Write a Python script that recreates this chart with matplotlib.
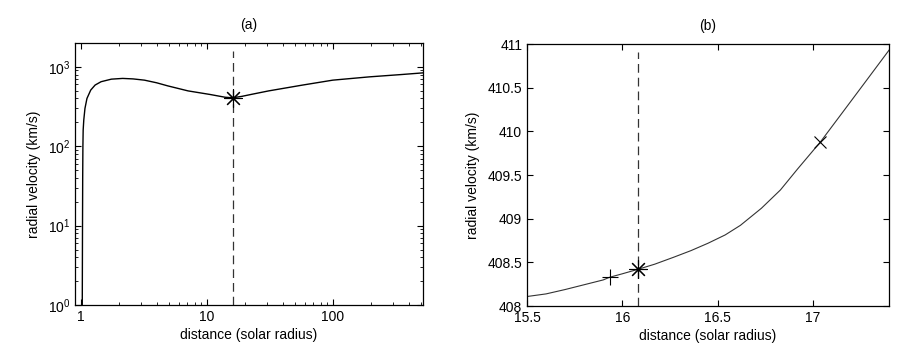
import numpy as np
import matplotlib
matplotlib.use("Agg")
import matplotlib.pyplot as plt
from matplotlib.ticker import LogLocator, NullFormatter

plt.rcParams['font.family'] = ['Liberation Sans', 'DejaVu Sans']
plt.rcParams['font.size'] = 10

# panel (a): full velocity profile
r_a = [1.028, 1.032, 1.036, 1.04, 1.045, 1.057, 1.08, 1.12, 1.2, 1.3, 1.45,
       1.75, 2.15, 2.6, 3.2, 4.0, 4.9, 7.1, 10.6, 14.0, 16.08, 19.0, 22.9,
       31, 57, 100, 195, 350, 520]
v_a = [1, 8, 40, 100, 160, 215, 300, 400, 510, 590, 650,
       700, 715, 705, 680, 630, 576, 498, 449, 414, 408, 425, 452,
       498, 588, 680, 748, 800, 840]

# panel (b): zoom near the critical point
r_b = [15.5, 15.6, 15.7, 15.8, 15.9, 15.933, 16.0, 16.08, 16.17, 16.27, 16.36,
       16.45, 16.54, 16.62, 16.73, 16.83, 16.92, 17.04, 17.15, 17.27, 17.4]
v_b = [408.11, 408.14, 408.19, 408.245, 408.30, 408.33, 408.37, 408.42, 408.48,
       408.56, 408.635, 408.72, 408.815, 408.925, 409.12, 409.33, 409.57, 409.88,
       410.20, 410.55, 410.93]

r_crit = 16.08
v_crit = 408.42
r_plus, v_plus = 15.933, 408.33
r_x, v_x = 17.04, 409.88

asterisk = (8, 2, 0)

fig = plt.figure(figsize=(9.19, 3.64), dpi=100)
ax1 = fig.add_axes([0.0816, 0.162, 0.3787, 0.720])
ax2 = fig.add_axes([0.5735, 0.159, 0.3939, 0.720])

ax1.plot(r_a, v_a, color='black', lw=1.0)
ax1.axvline(r_crit, ymax=0.97, color='#333333', lw=0.9, ls=(0, (7, 4)))
ax1.plot([r_crit], [408], marker=asterisk, ms=13, color='black', mew=0.8)
ax1.set_xscale('log')
ax1.set_yscale('log')
ax1.set_xlim(0.9, 520)
ax1.set_ylim(1, 2000)
ax1.set_xticks([1, 10, 100])
ax1.set_xticklabels(['1', '10', '100'])
ax1.xaxis.set_minor_locator(LogLocator(subs=np.arange(2, 10)))
ax1.xaxis.set_minor_formatter(NullFormatter())
ax1.yaxis.set_minor_locator(LogLocator(subs=np.arange(2, 10)))
ax1.yaxis.set_minor_formatter(NullFormatter())
ax1.set_xlabel('distance (solar radius)', labelpad=3)
ax1.set_ylabel('radial velocity (km/s)', labelpad=5)
ax1.set_title('(a)', fontsize=10, pad=10)

ax2.plot(r_b, v_b, color='#333333', lw=0.8)
ax2.axvline(r_crit, ymax=0.97, color='#333333', lw=0.9, ls=(0, (7, 4)))
ax2.plot([r_crit], [v_crit], marker=asterisk, ms=13, color='black', mew=0.8)
ax2.plot([r_plus], [v_plus], marker='+', ms=12, color='black', mew=0.8)
ax2.plot([r_x], [v_x], marker='x', ms=9, color='black', mew=0.8)
ax2.set_xlim(15.5, 17.4)
ax2.set_ylim(408, 411)
ax2.set_xticks([15.5, 16, 16.5, 17])
ax2.set_xticklabels(['15.5', '16', '16.5', '17'])
ax2.set_yticks([408, 408.5, 409, 409.5, 410, 410.5, 411])
ax2.set_yticklabels(['408', '408.5', '409', '409.5', '410', '410.5', '411'])
ax2.set_xlabel('distance (solar radius)', labelpad=3)
ax2.set_ylabel('radial velocity (km/s)', labelpad=5)
ax2.set_title('(b)', fontsize=10, pad=10)

for ax in (ax1, ax2):
    ax.tick_params(which='both', direction='in', top=True, right=True,
                   labelsize=10)
    ax.tick_params(which='major', length=4)
    ax.tick_params(which='minor', length=2)
    for s in ax.spines.values():
        s.set_linewidth(0.9)

fig.savefig('out.png', dpi=100)
